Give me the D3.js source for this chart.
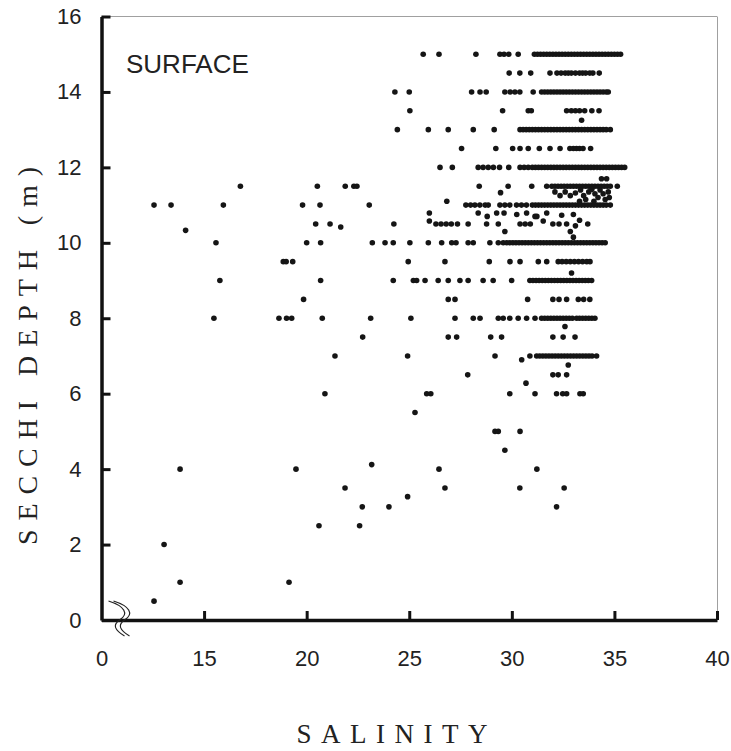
<!DOCTYPE html>
<html>
<head>
<meta charset="utf-8">
<script src="https://cdn.jsdelivr.net/npm/d3@7"></script>
<style>
  html, body { margin: 0; padding: 0; background: #fff; }
  svg { display: block; }
</style>
</head>
<body>
<svg id="chart" width="731" height="751"></svg>
<script>
// ---------- DATA (salinity readings grouped by Secchi depth, m) ----------
const sal15_0 = [25.68, 26.45, 28.25, 29.42, 29.62, 29.85, 30.31, 31.1, 31.25, 31.4, 31.55, 31.7, 31.85, 32.0, 32.15, 32.3, 32.45, 32.6, 32.75, 32.9, 33.05, 33.2, 33.35, 33.5, 33.65, 33.8, 33.95, 34.1, 34.25, 34.4, 34.55, 34.7, 34.85, 35.0, 35.15, 35.3];
const sal14_5 = [29.87, 30.39, 30.92, 31.86, 32.2, 32.4, 32.6, 32.75, 32.9, 33.1, 33.3, 33.45, 33.6, 33.8, 33.95, 34.26];
const sal14_0 = [24.3, 25.0, 28.04, 28.45, 28.75, 29.66, 29.92, 30.15, 30.39, 31.04, 31.45, 31.6, 31.75, 31.9, 32.05, 32.2, 32.35, 32.5, 32.65, 32.8, 32.95, 33.1, 33.25, 33.4, 33.55, 33.7, 33.85, 34.0, 34.15, 34.3, 34.45, 34.6, 34.7];
const sal13_5 = [25.03, 29.55, 30.8, 30.95, 32.67, 32.9, 33.1, 33.3, 33.55, 33.9, 34.25];
const sal13_0 = [24.42, 25.93, 26.9, 28.12, 29.14, 30.4, 30.55, 30.7, 30.85, 31.0, 31.15, 31.3, 31.45, 31.6, 31.75, 31.9, 32.05, 32.2, 32.35, 32.5, 32.65, 32.8, 32.95, 33.1, 33.25, 33.4, 33.55, 33.7, 33.85, 34.0, 34.15, 34.3, 34.45, 34.6, 34.8];
const sal12_5 = [27.55, 29.22, 30.04, 30.4, 30.8, 31.34, 31.86, 32.35, 32.83, 33.0, 33.15, 33.3, 33.47, 33.84];
const sal12_0 = [26.5, 27.1, 28.36, 28.6, 28.85, 29.1, 29.4, 29.85, 30.4, 30.6, 30.8, 31.0, 31.15, 31.3, 31.45, 31.6, 31.75, 31.9, 32.05, 32.2, 32.35, 32.5, 32.65, 32.8, 32.95, 33.1, 33.25, 33.4, 33.55, 33.7, 33.85, 34.0, 34.15, 34.3, 34.45, 34.6, 34.75, 34.9, 35.05, 35.2, 35.35, 35.5];
const sal11_5 = [16.77, 20.52, 21.88, 22.3, 22.45, 28.41, 29.82, 30.97, 31.7, 31.95, 32.1, 32.25, 32.4, 32.55, 32.7, 32.85, 33.0, 33.15, 33.3, 33.45, 33.6, 33.75, 33.9, 34.05, 34.2, 34.35, 34.5, 34.65, 34.8, 35.14];
const sal11_0 = [12.56, 13.39, 15.94, 19.8, 20.65, 23.05, 27.76, 27.99, 28.2, 28.44, 28.7, 28.85, 29.42, 29.66, 29.9, 30.23, 30.47, 30.71, 31.0, 31.15, 31.3, 31.45, 31.6, 31.75, 31.9, 32.05, 32.2, 32.35, 32.5, 32.65, 32.8, 32.95, 33.1, 33.25, 33.4, 33.55, 33.7, 33.85, 34.0, 34.15, 34.3, 34.45, 34.6, 34.8];
const sal10_5 = [20.44, 21.14, 24.25, 26.3, 26.55, 26.8, 27.05, 27.35, 27.87, 28.77, 29.34, 30.4, 30.65, 30.9, 32.0, 32.3, 32.67, 33.7];
const sal10_0 = [15.58, 20.0, 20.68, 23.2, 23.82, 24.22, 25.03, 25.93, 26.58, 27.07, 27.28, 27.87, 28.12, 28.93, 29.34, 29.58, 29.75, 29.9, 30.05, 30.2, 30.35, 30.5, 30.65, 30.8, 30.95, 31.1, 31.25, 31.4, 31.55, 31.7, 31.85, 32.0, 32.15, 32.3, 32.45, 32.6, 32.75, 32.9, 33.05, 33.2, 33.35, 33.5, 33.65, 33.8, 33.95, 34.1, 34.25, 34.4, 34.55];
const sal9_5 = [18.86, 19.0, 19.32, 24.95, 26.74, 28.9, 29.91, 30.4, 31.29, 31.7, 32.26, 32.45, 32.65, 32.85, 33.05, 33.25, 33.45, 33.65, 33.81];
const sal9_0 = [15.77, 20.68, 24.22, 25.2, 25.36, 25.77, 26.41, 26.9, 27.47, 27.87, 28.6, 29.09, 29.99, 30.88, 31.03, 31.18, 31.33, 31.48, 31.63, 31.78, 31.93, 32.08, 32.23, 32.38, 32.53, 32.68, 32.83, 32.98, 33.13, 33.28, 33.43, 33.58, 33.73, 33.89];
const sal8_5 = [19.85, 26.9, 27.23, 30.77, 32.0, 32.3, 32.67, 33.24, 33.5, 33.8];
const sal8_0 = [15.48, 18.65, 19.02, 19.27, 20.76, 23.12, 25.08, 27.23, 28.12, 28.45, 29.34, 29.58, 29.9, 30.31, 30.72, 31.13, 31.45, 31.6, 31.75, 31.9, 32.05, 32.2, 32.35, 32.5, 32.65, 32.8, 32.95, 33.16, 33.3, 33.45, 33.6, 33.75, 33.9, 34.05];
const sal7_5 = [22.73, 26.9, 27.31, 28.97, 29.5, 32.0, 32.5, 33.08];
const sal7_0 = [21.38, 24.92, 29.18, 30.88, 31.21, 31.36, 31.51, 31.66, 31.81, 31.96, 32.11, 32.26, 32.41, 32.56, 32.71, 32.86, 33.01, 33.16, 33.31, 33.46, 33.61, 33.76, 33.91, 34.13];
const sal6_5 = [27.85, 32.0, 32.26, 32.67];
const sal6_0 = [20.89, 25.85, 26.05, 29.9, 31.13, 32.18, 32.48, 32.67, 33.32, 33.48];
const sal5_5 = [25.28];
const sal5_0 = [29.18, 29.34, 30.4];
const sal4_5 = [29.66];
const sal4_0 = [13.83, 19.48, 26.45, 31.22];
const sal3_5 = [21.87, 26.74, 30.39, 32.55];
const sal3_0 = [22.71, 24.01, 32.18];
const sal2_5 = [20.6, 22.58];
const sal2_0 = [13.05];
const sal1_0 = [13.83, 19.14];
const sal0_5 = [12.56];

// readings that fall between the half-metre levels
const extraSalinity = [33.4, 34.37, 34.62, 29.45, 26.83, 32.1, 32.35, 32.6, 32.85, 33.1, 33.35, 33.5, 33.6, 33.75, 33.9, 34.05, 34.2, 34.3, 34.45, 34.55, 34.7, 34.75, 33.3, 34.0,
  25.98, 28.36, 28.8, 29.26, 29.62, 30.24, 30.72, 31.13, 31.22, 31.7, 32.43, 33.0,
  25.98, 31.53, 33.1, 33.3, 21.66, 14.1, 29.66, 32.85, 33.0, 32.91, 32.59, 30.48, 32.75, 30.69, 23.17, 24.92];
const extraDepth = [13.25, 11.7, 11.7, 11.33, 11.1, 11.35, 11.25, 11.35, 11.25, 11.32, 11.4, 11.25, 11.15, 11.35, 11.42, 11.3, 11.2, 11.4, 11.3, 11.15, 11.35, 11.2, 11.1, 11.1,
  10.79, 10.79, 10.7, 10.79, 10.79, 10.75, 10.79, 10.7, 10.7, 10.79, 10.73, 10.75,
  10.58, 10.58, 10.45, 10.6, 10.42, 10.33, 10.3, 10.3, 10.15, 9.2, 7.78, 6.9, 6.76, 6.28, 4.12, 3.27];

const depthLevels = [15, 14.5, 14, 13.5, 13, 12.5, 12, 11.5, 11, 10.5, 10, 9.5, 9, 8.5, 8, 7.5, 7, 6.5, 6, 5.5, 5, 4.5, 4, 3.5, 3, 2.5, 2, 1, 0.5];
const salinityLists = [sal15_0, sal14_5, sal14_0, sal13_5, sal13_0, sal12_5, sal12_0, sal11_5, sal11_0, sal10_5, sal10_0, sal9_5, sal9_0, sal8_5, sal8_0, sal7_5, sal7_0, sal6_5, sal6_0, sal5_5, sal5_0, sal4_5, sal4_0, sal3_5, sal3_0, sal2_5, sal2_0, sal1_0, sal0_5];

const xTickValues = [10, 15, 20, 25, 30, 35, 40];
const xTickLabels = ["0", "15", "20", "25", "30", "35", "40"];
const yTickValues = [0, 2, 4, 6, 8, 10, 12, 14, 16];

// ---------- BUILD ----------
const points = [];
depthLevels.forEach((d, i) => salinityLists[i].forEach(s => points.push({s, d})));
extraSalinity.forEach((s, i) => points.push({s, d: extraDepth[i]}));

const svg = d3.select("#chart");
const x = d3.scaleLinear().domain([10, 40]).range([101.5, 717]);
const y = d3.scaleLinear().domain([0, 16]).range([620, 16.5]);

// thin frame top / right
svg.append("line").attr("x1", x(10)).attr("x2", x(40)).attr("y1", y(16)).attr("y2", y(16))
  .attr("stroke", "#a0a0a0").attr("stroke-width", 1);
svg.append("line").attr("x1", x(40) + 0.5).attr("x2", x(40) + 0.5).attr("y1", y(16)).attr("y2", y(0))
  .attr("stroke", "#a0a0a0").attr("stroke-width", 1);

// points
svg.append("g").selectAll("circle").data(points).join("circle")
  .attr("cx", p => x(p.s)).attr("cy", p => y(p.d)).attr("r", 2.8)
  .attr("fill", "#151515");

const tickFont = "'Liberation Sans', Arial, sans-serif";

// y axis
const yAxis = svg.append("g").attr("transform", `translate(${x(10)},0)`)
  .call(d3.axisLeft(y).tickValues(yTickValues).tickSizeInner(-9).tickSizeOuter(0).tickPadding(20));
yAxis.select(".domain").attr("stroke", "#111").attr("stroke-width", 3.5);
yAxis.selectAll(".tick line").attr("stroke", "#111").attr("stroke-width", 3);
yAxis.selectAll(".tick text").attr("font-family", tickFont).attr("font-size", 22).attr("fill", "#222");

// x axis
const xAxis = svg.append("g").attr("transform", `translate(0,${y(0)})`)
  .call(d3.axisBottom(x).tickValues(xTickValues).tickFormat((d, i) => xTickLabels[i])
    .tickSizeInner(-9).tickSizeOuter(0).tickPadding(30));
xAxis.select(".domain").attr("stroke", "#111").attr("stroke-width", 3.5);
xAxis.selectAll(".tick line").attr("stroke", "#111").attr("stroke-width", 3)
  .attr("display", (d) => d === 10 ? "none" : null);
xAxis.selectAll(".tick text").attr("font-family", tickFont).attr("font-size", 22).attr("fill", "#222");

// axis break marks
const bx = x(10), by = y(0);
[0, 5].forEach(off => {
  svg.append("path")
    .attr("d", `M${bx + 7 + off},${by - 19} C${bx + 23 + off},${by - 14} ${bx + 28 + off},${by - 6} ${bx + 18 + off},${by}`
      + ` C${bx + 11 + off},${by + 5} ${bx + 13 + off},${by + 10} ${bx + 23 + off},${by + 16}`)
    .attr("fill", "none").attr("stroke", "#222").attr("stroke-width", 1.1);
});

// labels
svg.append("text").attr("x", 126).attr("y", 73)
  .attr("font-family", tickFont).attr("font-size", 26).attr("fill", "#222")
  .text("SURFACE");

svg.append("text").attr("x", 392).attr("y", 743).attr("text-anchor", "middle")
  .attr("font-family", "'Liberation Serif', 'Times New Roman', serif").attr("font-size", 27).attr("fill", "#222")
  .attr("textLength", 191).attr("lengthAdjust", "spacing")
  .text("SALINITY");

svg.append("text").attr("transform", "translate(37,356) rotate(-90)").attr("text-anchor", "middle")
  .attr("font-family", "'Liberation Serif', 'Times New Roman', serif").attr("font-size", 28).attr("fill", "#222")
  .attr("textLength", 378).attr("lengthAdjust", "spacing")
  .text("SECCHI DEPTH (m)");
</script>
</body>
</html>
